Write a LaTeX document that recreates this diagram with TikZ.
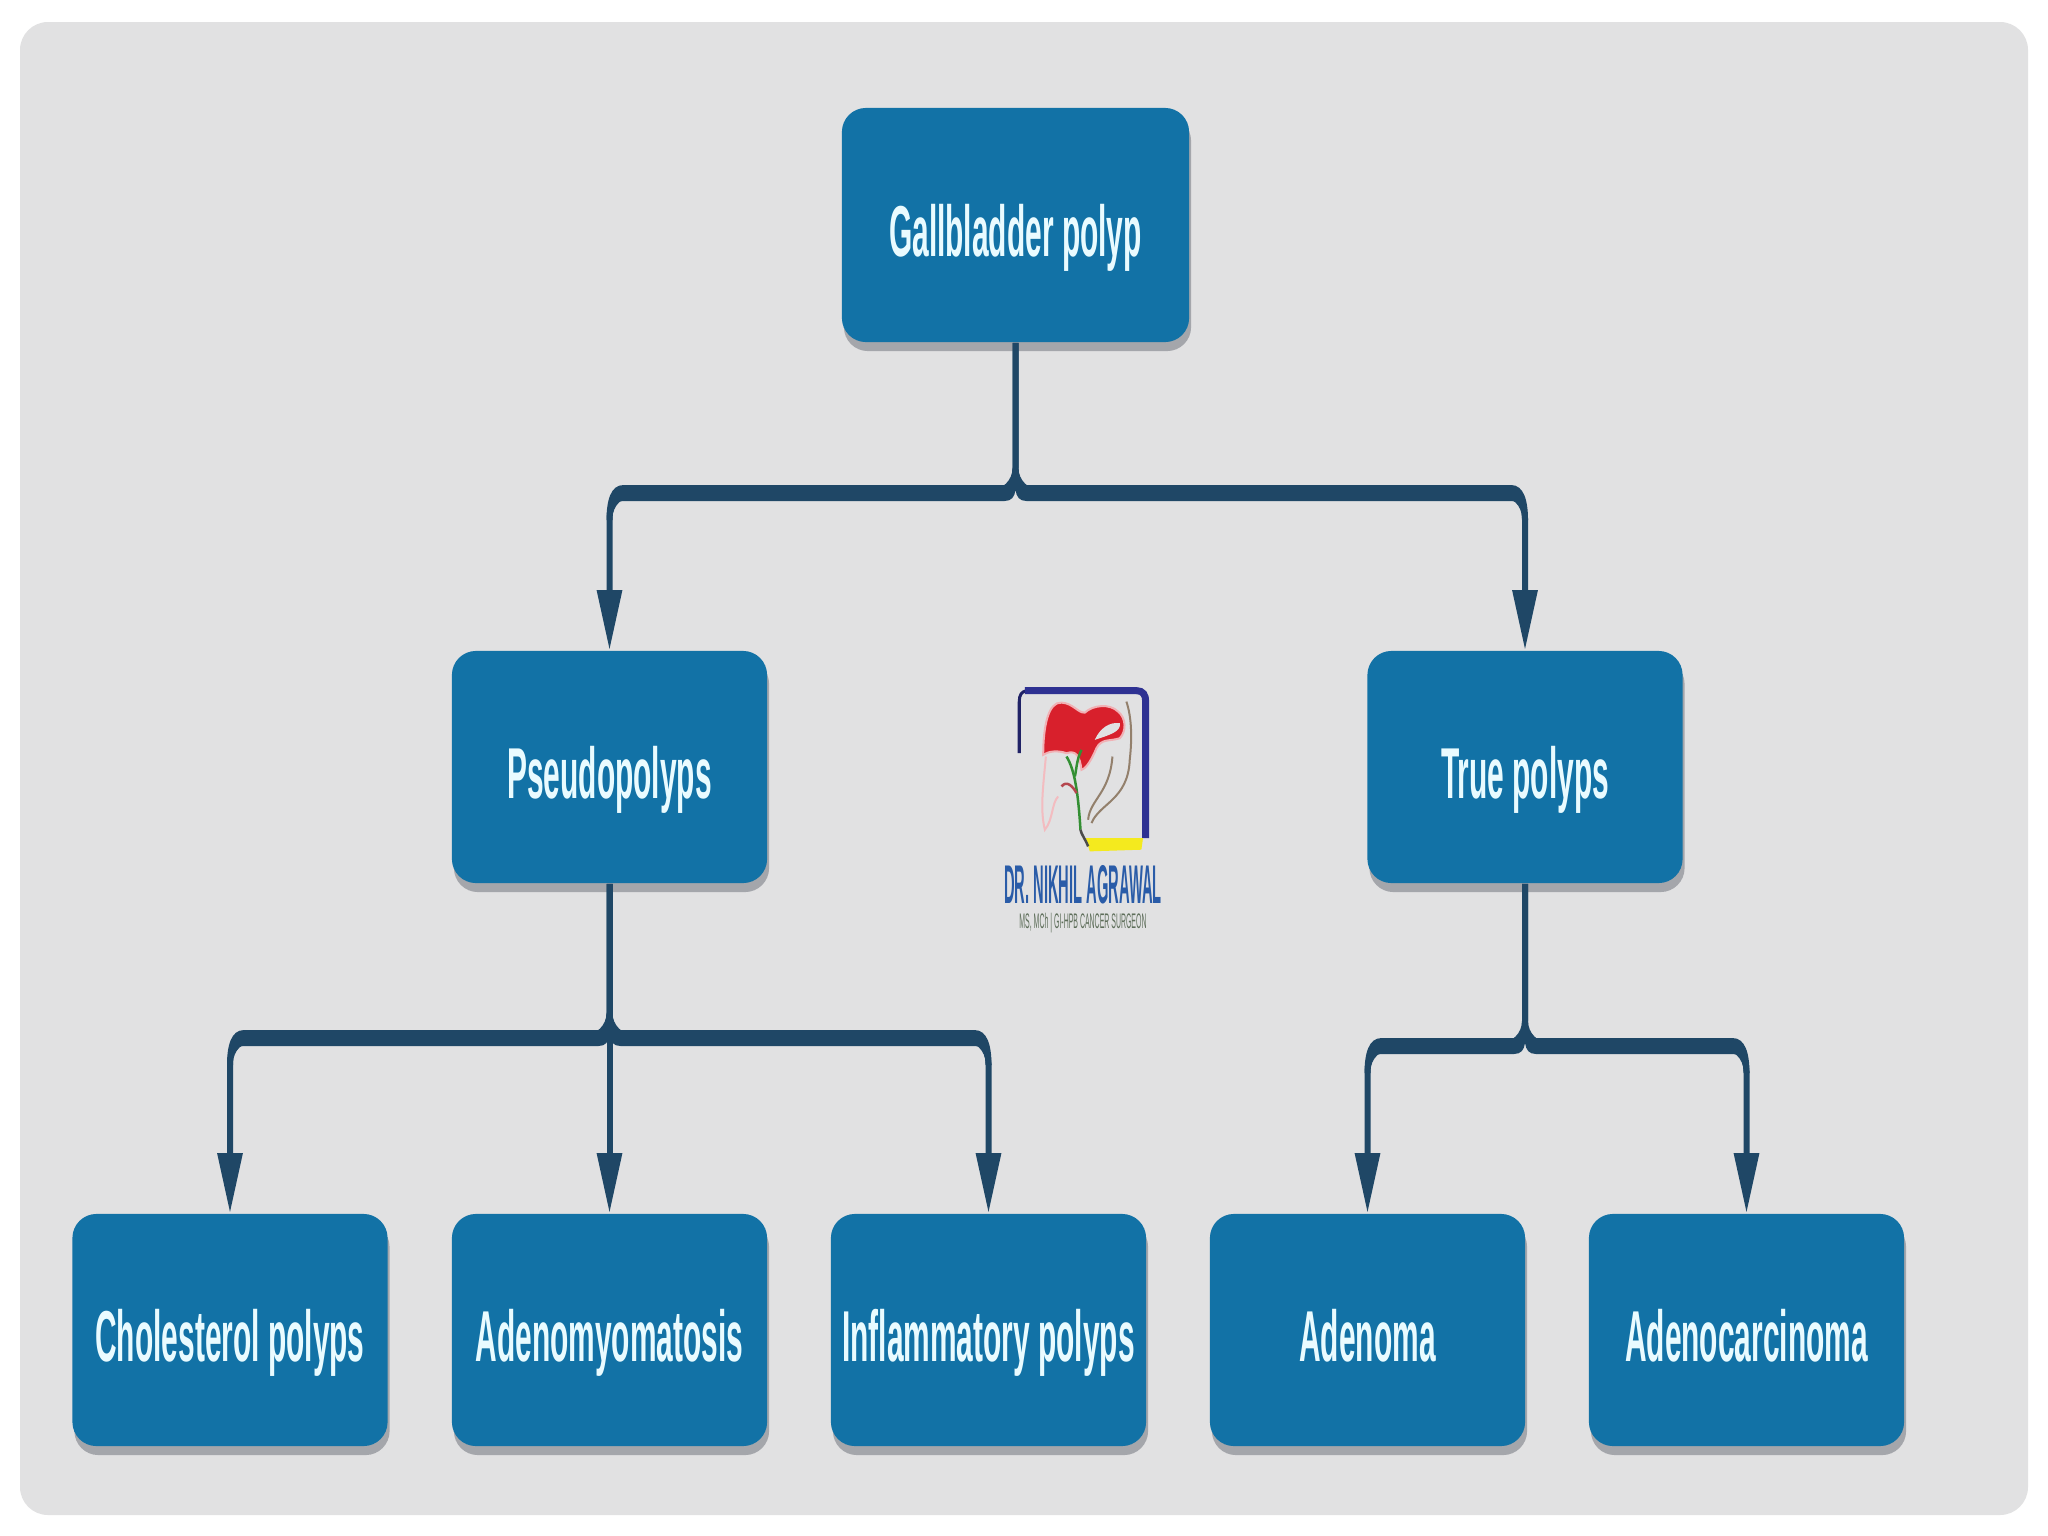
\documentclass[tikz,border=0pt]{standalone}
\usepackage{fontspec}
\usepackage{xcolor}
\usetikzlibrary{arrows.meta, shadows}
\newfontfamily\boxfont[FakeStretch=0.415]{Liberation Sans}
\newfontfamily\logofont[FakeStretch=0.27]{Liberation Sans}
\newfontfamily\logosub[FakeStretch=0.33]{Liberation Sans}
\definecolor{panel}{HTML}{E1E1E2}
\definecolor{boxblue}{HTML}{1272A6}
\definecolor{boxshade}{HTML}{A4A6AB}
\definecolor{wire}{HTML}{1F4766}
\definecolor{boxtext}{HTML}{E9FBFF}
\definecolor{logoblue}{HTML}{2E3192}
\definecolor{logored}{HTML}{D8202C}
\definecolor{logoyellow}{HTML}{F4EA1E}
\definecolor{logotext}{HTML}{2A5CA8}
\definecolor{logosubc}{HTML}{5E6E5A}
% thick bar of a branch: left x, right x, junction x, y
\newcommand{\busbar}[4]{
  \fill[wire] (#1-3,#4+27) .. controls (#1-3,#4+8) and (#1+1,#4-8) .. (#1+14,#4-8)
    -- (#3-11,#4-8) .. controls (#3-5,#4-8) and (#3-3,#4-14) .. (#3-3,#4-24)
    -- (#3+3,#4-24) .. controls (#3+3,#4-14) and (#3+5,#4-8) .. (#3+11,#4-8)
    -- (#2-14,#4-8) .. controls (#2-1,#4-8) and (#2+3,#4+8) .. (#2+3,#4+27)
    -- (#2-3,#4+27) .. controls (#2-3,#4+16) and (#2-6,#4+8) .. (#2-14,#4+8)
    -- (#3+11,#4+8) .. controls (#3+4,#4+8) and (#3+1,#4+4) .. (#3,#4-3)
    .. controls (#3-1,#4+4) and (#3-4,#4+8) .. (#3-11,#4+8)
    -- (#1+14,#4+8) .. controls (#1+6,#4+8) and (#1+3,#4+16) .. (#1+3,#4+27) -- cycle;
}
\begin{document}
\begin{tikzpicture}[x=0.01cm, y=-0.01cm,
  box/.style={fill=boxblue, rounded corners=0.24cm, minimum width=3.15cm, minimum height=2.32cm, inner sep=0pt, align=center,
    text height=0.62cm, text depth=0pt, text=boxtext, font=\boxfont\bfseries\fontsize{20.5pt}{24pt}\selectfont,
    drop shadow={shadow xshift=0.02cm, shadow yshift=-0.09cm, fill=boxshade, opacity=1}},
  rootbox/.style={box, minimum width=3.47cm, minimum height=2.34cm},
  wireline/.style={draw=wire, line width=0.06cm, rounded corners=0.25cm, -{Triangle[length=0.6cm, width=0.24cm]}}]

  \useasboundingbox (0,0) rectangle (2048,1536);
  \fill[white] (0,0) rectangle (2048,1536);
  \fill[panel, rounded corners=0.28cm] (20,22) rectangle (2028,1515);

  % Boxes by level
  \node[rootbox] (gallbladder) at (1015.5,225) {Gallbladder polyp};

  \node[box] (pseudo) at (609.5,767) {Pseudopolyps};
  \node[box] (true) at (1525,767) {True polyps};

  \node[box] (cholesterol) at (230,1330) {Cholesterol polyps};
  \node[box] (adenomyo) at (609.5,1330) {Adenomyomatosis};
  \node[box] (inflammatory) at (988.5,1330) {Inflammatory polyps};
  \node[box] (adenoma) at (1367.5,1330) {Adenoma};
  \node[box] (adenocarcinoma) at (1746.5,1330) {Adenocarcinoma};

  % Branch points
  \coordinate (rootjoin) at (1015.5,493);
  \coordinate (pseudojoin) at (609.5,1038);
  \coordinate (truejoin) at (1525,1046);

  % Connectors
  \foreach \from/\join/\to in {gallbladder/rootjoin/pseudo, gallbladder/rootjoin/true,
      pseudo/pseudojoin/cholesterol, pseudo/pseudojoin/adenomyo, pseudo/pseudojoin/inflammatory,
      true/truejoin/adenoma, true/truejoin/adenocarcinoma} {
    \draw[wireline] (\from.south) -- (\join) -| (\to.north);
  }
  \busbar{609.5}{1525}{1015.5}{493}
  \busbar{230}{988.5}{609.5}{1038}
  \busbar{1367.5}{1746.5}{1525}{1046}

  % Logo
  \begin{scope}[shift={(960,660)}, x=0.00333cm, y=-0.00333cm]
    \draw[logoblue!70!black, line width=0.03cm] (178,280) -- (178,125) .. controls (178,105) and (185,95) .. (200,92);
    \draw[logoblue, line width=0.07cm] (195,92) -- (530,92) .. controls (550,92) and (558,105) .. (558,125) -- (558,535);
    \fill[logoyellow] (378,535) -- (550,535) -- (545,570) -- (390,575) -- cycle;
    \fill[logored, draw=logored!35, line width=0.02cm] (250,285) .. controls (250,200) and (265,125) .. (305,128)
      .. controls (340,130) and (355,160) .. (375,158) .. controls (400,135) and (450,130) .. (475,155)
      .. controls (500,175) and (500,215) .. (480,235) .. controls (450,245) and (425,235) .. (410,265)
      .. controls (395,300) and (380,325) .. (365,330) .. controls (360,290) and (350,270) .. (320,280)
      .. controls (290,270) and (265,275) .. (250,285) -- cycle;
    \fill[panel] (405,240) .. controls (420,205) and (450,185) .. (480,190) .. controls (485,215) and (450,225) .. (405,240) -- cycle;
    \draw[logored!30, line width=0.02cm] (258,290) .. controls (250,380) and (240,450) .. (255,510) .. controls (280,480) and (275,430) .. (295,410);
    \draw[black!40!green!60!gray, line width=0.025cm] (320,290) .. controls (345,330) and (355,400) .. (362,510);
    \draw[black!40!green!60!gray, line width=0.025cm] (365,270) .. controls (350,300) and (350,330) .. (345,350);
    \draw[logored!60!gray, line width=0.025cm] (305,380) .. controls (320,360) and (340,380) .. (350,400);
    \draw[gray!70!brown, line width=0.02cm] (385,480) .. controls (390,420) and (450,400) .. (458,290);
    \draw[gray!70!brown, line width=0.02cm] (395,490) .. controls (420,430) and (505,420) .. (510,300) .. controls (518,230) and (515,170) .. (500,125);
    \draw[black!70, line width=0.025cm] (362,510) .. controls (365,525) and (375,535) .. (385,560);
  \end{scope}
  \node[inner sep=0pt, text=logotext, font=\logofont\bfseries\fontsize{15.5pt}{17pt}\selectfont] (logoname) at (1083,885) {DR. NIKHIL AGRAWAL};
  \node[inner sep=0pt, text=logosubc, font=\logosub\fontsize{6pt}{7pt}\selectfont] (logotitle) at (1083,923) {MS, MCh | GI-HPB CANCER SURGEON};
\end{tikzpicture}
\end{document}
